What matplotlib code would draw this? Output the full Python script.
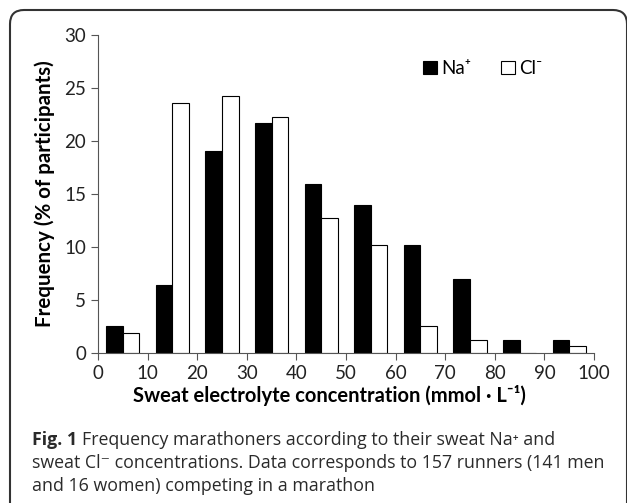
import matplotlib
matplotlib.use("Agg")
import matplotlib.pyplot as plt
from matplotlib.patches import FancyBboxPatch
import numpy as np

bin_starts = [0, 10, 20, 30, 40, 50, 60, 70, 80, 90]
na_values = [2.55, 6.37, 19.1, 21.7, 15.9, 14.0, 10.2, 7.0, 1.27, 1.27]
cl_values = [1.91, 23.6, 24.2, 22.3, 12.7, 10.2, 2.55, 1.27, 0.0, 0.64]
x_ticks = [0, 10, 20, 30, 40, 50, 60, 70, 80, 90, 100]
y_ticks = [0, 5, 10, 15, 20, 25, 30]

plt.rcParams['font.family'] = ['Lato', 'DejaVu Sans']

W, H = 627, 503
fig = plt.figure(figsize=(W/100, H/100), dpi=100)
ax = fig.add_axes([98/W, 1 - 353/H, (594-98)/W, (353-35)/H])

# rounded frame (inch units so corners are circular)
box = FancyBboxPatch((0.10, -0.5), (627 - 10) / 100, (H - 10) / 100 + 0.5,
                     boxstyle="round,pad=0,rounding_size=0.14",
                     transform=fig.dpi_scale_trans, fill=False,
                     edgecolor='#333333', linewidth=1.5, zorder=0)
fig.patches.append(box)

centers = np.array(bin_starts) + 5
w = 10 / 3.0
ax.bar(centers - w/2, na_values, width=w, color='black', edgecolor='black',
       linewidth=0.8, label='Na⁺')
ax.bar(centers + w/2, cl_values, width=w, color='white', edgecolor='black',
       linewidth=0.8, label='Cl⁻')

ax.set_xlim(0, 100)
ax.set_ylim(0, 30)
ax.set_xticks(x_ticks)
ax.set_yticks(y_ticks)
ax.spines['top'].set_visible(False)
ax.spines['right'].set_visible(False)
for s in ['left', 'bottom']:
    ax.spines[s].set_color('#555555')
ax.tick_params(direction='out', length=5, colors='#555555', labelcolor='#222222',
               labelsize=13.5)

ax.set_xlabel('Sweat electrolyte concentration (mmol · L⁻¹)', fontsize=14.5,
              fontweight='bold')
ax.xaxis.set_label_coords((329-98)/(594-98), -(395-353)/(353-35), transform=ax.transAxes)
ax.xaxis.label.set_va('center')
ax.set_ylabel('Frequency (% of participants)', fontsize=14.8, fontweight='bold')
ax.yaxis.set_label_coords(-(98-45)/(594-98), 0.5)
ax.yaxis.label.set_va('center')

leg = fig.legend(*ax.get_legend_handles_labels(), loc='upper left',
                 bbox_to_anchor=(423/W, 1 - 60/H), ncol=2, frameon=False,
                 fontsize=13.5, handlelength=0.75, handleheight=0.75, handletextpad=0.2,
                 columnspacing=1.6, borderpad=0, borderaxespad=0)

cap_kw = dict(va='baseline', ha='left', color='#2a2a2a', fontsize=12.8,
              family=['Open Sans', 'DejaVu Sans'])
x0 = 32/W
base1 = 1 - 445/H
t_bold = fig.text(x0, base1, 'Fig. 1', fontweight='bold', **cap_kw)
fig.canvas.draw()
bb = t_bold.get_window_extent(renderer=fig.canvas.get_renderer())
x1 = (bb.x1 + 5) / fig.bbox.width
fig.text(x1, base1, 'Frequency marathoners according to their sweat Na⁺ and', **cap_kw)
fig.text(x0, 1 - 468/H,
         'sweat Cl⁻ concentrations. Data corresponds to 157 runners (141 men', **cap_kw)
fig.text(x0, 1 - 491/H, 'and 16 women) competing in a marathon', **cap_kw)

fig.savefig('out.png', dpi=100)
